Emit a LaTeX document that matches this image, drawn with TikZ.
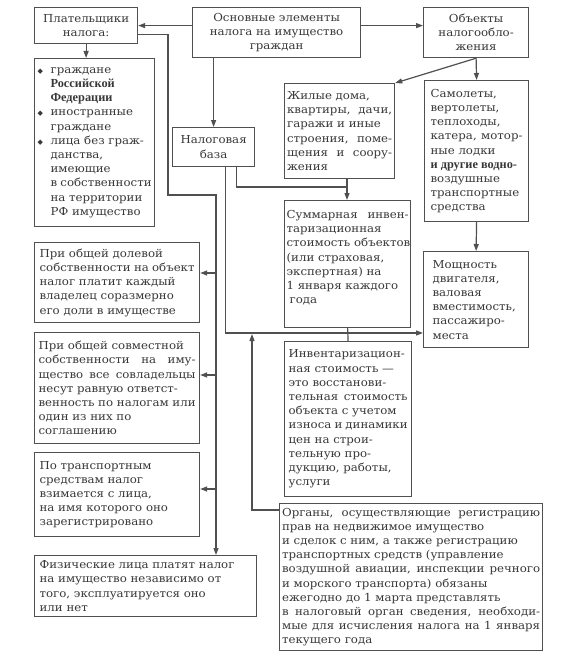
\documentclass[tikz,border=0pt]{standalone}
\usepackage{fontspec}
\setmainfont{DejaVu Serif}[FakeStretch=1.07]
\newfontfamily\symfont{DejaVu Sans}
\newfontfamily\boldserif{Liberation Serif}[Scale=1.12]
\usetikzlibrary{arrows.meta}
\definecolor{cline}{HTML}{505050}
\definecolor{ctext}{HTML}{383838}
\newcommand{\dmd}{\makebox[13pt][l]{\symfont\fontsize{7}{7}\selectfont ◆}}
\newcommand{\hang}{\hspace*{13pt}}
\newcommand{\bt}[1]{{\boldserif\bfseries #1}}
\tolerance=9000
\hyphenpenalty=10000
\tikzset{
  every picture/.style={line width=1.2pt},
  box/.style={draw=cline, text=ctext, anchor=north west, align=justify, inner xsep=4pt, inner ysep=2pt,
    font=\fontsize{11}{14.2}\selectfont},
  cbox/.style={box, align=center},
  line/.style={draw=cline},
  arrow/.style={-{Triangle[length=7pt,width=5pt]}, draw=cline},
}

\begin{document}
\begin{tikzpicture}[x=1pt, y=-1pt]
  \useasboundingbox[fill=white] (0,0) rectangle (565,669);
  % top row
  \node[cbox, minimum width=103pt, minimum height=36pt, text width=95pt] (payers) at (34,7) {Плательщики\\налога:};
  \node[cbox, minimum width=168pt, minimum height=50pt, text width=160pt] (main) at (192,7) {Основные элементы\\налога на имущество\\граждан};
  \node[cbox, minimum width=105pt, minimum height=50pt, text width=97pt] (objects) at (423,7) {Объекты\\налогообло-\\жения};
  \node[box, inner xsep=3pt, minimum width=120pt, minimum height=168pt, text width=114pt] (list) at (34,58) {\dmd граждане\\ \hang\bt{Российской}\\ \hang\bt{Федерации}\\ \dmd иностранные\\ \hang граждане\\ \dmd лица без граж-\\ \hang данства,\\ \hang имеющие\\ \hang в собственности\\ \hang на территории\\ \hang РФ имущество};
  \node[cbox, minimum width=82pt, minimum height=39pt, text width=74pt] (base) at (172,127) {Налоговая\\база};
  % objects of taxation
  \node[box, inner xsep=2.5pt, minimum width=110pt, minimum height=95pt, text width=105pt] (housing) at (284,83) {Жилые дома,\\квартиры, дачи,\linebreak гаражи и иные\\строения, поме-\linebreak щения и соору-\linebreak жения};
  \node[box, inner xsep=6pt, minimum width=104pt, minimum height=141pt, text width=92pt] (vehicles) at (424,80) {Самолеты,\\вертолеты,\\теплоходы,\\катера, мотор-\linebreak ные лодки\\\bt{и другие водно-}\\воздушные\\транспортные\\средства};
  \node[box, inner xsep=2pt, minimum width=126pt, minimum height=127pt, text width=122pt] (invsum) at (284,200) {Суммарная инвен-\linebreak таризационная\\\mbox{стоимость объектов}\\(или страховая,\\экспертная) на\\1 января каждого\\\hspace*{3pt}года\\ \mbox{}};
  \node[box, inner xsep=9pt, minimum width=105pt, minimum height=96pt, text width=87pt] (power) at (423,251) {Мощность\\двигателя,\\валовая\\вместимость,\\пассажиро-\\места};
  \node[box, minimum width=127pt, minimum height=155pt, text width=119pt] (invdef) at (284,341) {Инвентаризацион-\linebreak ная стоимость —\\это восстанови-\\тельная стоимость\linebreak объекта с учетом\\износа и динамики\linebreak цен на строи-\\тельную про-\\дукцию, работы,\\услуги};
  \node[box, inner xsep=2.5pt, minimum width=263pt, minimum height=147pt, text width=258pt] (agencies) at (279,503) {Органы, осуществляющие регистрацию\linebreak прав на недвижимое имущество\\и сделок с ним, а также регистрацию\\транспортных средств (управление\\воздушной авиации, инспекции речного\linebreak и морского транспорта) обязаны\\ежегодно до 1 марта представлять\\в налоговый орган сведения, необходи-\linebreak мые для исчисления налога на 1 января\linebreak текущего года};
  % left column
  \node[box, inner xsep=5pt, minimum width=165pt, minimum height=80pt, text width=155pt] (share) at (34,242) {При общей долевой\\собственности на объект\linebreak налог платит каждый\\владелец соразмерно\\его доли в имуществе};
  \node[box, inner xsep=4pt, minimum width=165pt, minimum height=111pt, text width=157pt] (joint) at (34,332) {При общей совместной\\собственности на иму-\linebreak щество все совладельцы\linebreak несут равную ответст-\\венность по налогам или\linebreak один из них по\\соглашению};
  \node[box, inner xsep=5pt, minimum width=165pt, minimum height=84pt, text width=155pt] (transp) at (34,452) {По транспортным\\средствам налог\\взимается с лица,\\на имя которого оно\\зарегистрировано};
  \node[box, inner xsep=5pt, minimum width=222pt, minimum height=61pt, text width=212pt] (phys) at (34,555) {Физические лица платят налог\\на имущество независимо от\\того, эксплуатируется оно\\или нет};
  % connectors
  \draw[arrow] (main.west |- payers.east) -- (payers.east);
  \draw[arrow] (main.east |- payers.east) -- (objects.west |- payers.east);
  \draw[arrow] (main.south -| base.north) -- (base.north);
  \draw[arrow] (payers.south) -- (payers.south |- list.north);
  \draw[arrow] (objects.south) -- (housing.north east);
  \draw[arrow] (objects.south) -- (vehicles.north);
  \draw[arrow] (vehicles.south) -- (power.north);
  \coordinate (bus) at (216,195);
  \coordinate (b1) at (216,273);
  \coordinate (b2) at (216,375);
  \coordinate (b3) at (216,489);
  \draw[arrow] ([yshift=-9pt]payers.east) -| ([xshift=-48pt]bus) -- (bus) -- (bus |- phys.north);
  \draw[arrow] (b1) -- (b1 -| share.east);
  \draw[arrow] (b2) -- (b2 -| joint.east);
  \draw[arrow] (b3) -- (b3 -| transp.east);
  \coordinate (merge) at (347,187);
  \draw[line] ([xshift=23pt]base.south) |- (merge);
  \draw[arrow] (housing.south -| merge) -- (invsum.north -| merge);
  \coordinate (taxline) at (348,333);
  \draw[arrow] ([xshift=12pt]base.south) |- (taxline) -- (taxline -| power.west);
  \draw[line] (invsum.south) -- (invdef.north);
  \coordinate (regup) at (252,334);
  \draw[arrow] ([yshift=-7pt]agencies.north west) -| (regup);
\end{tikzpicture}
\end{document}
